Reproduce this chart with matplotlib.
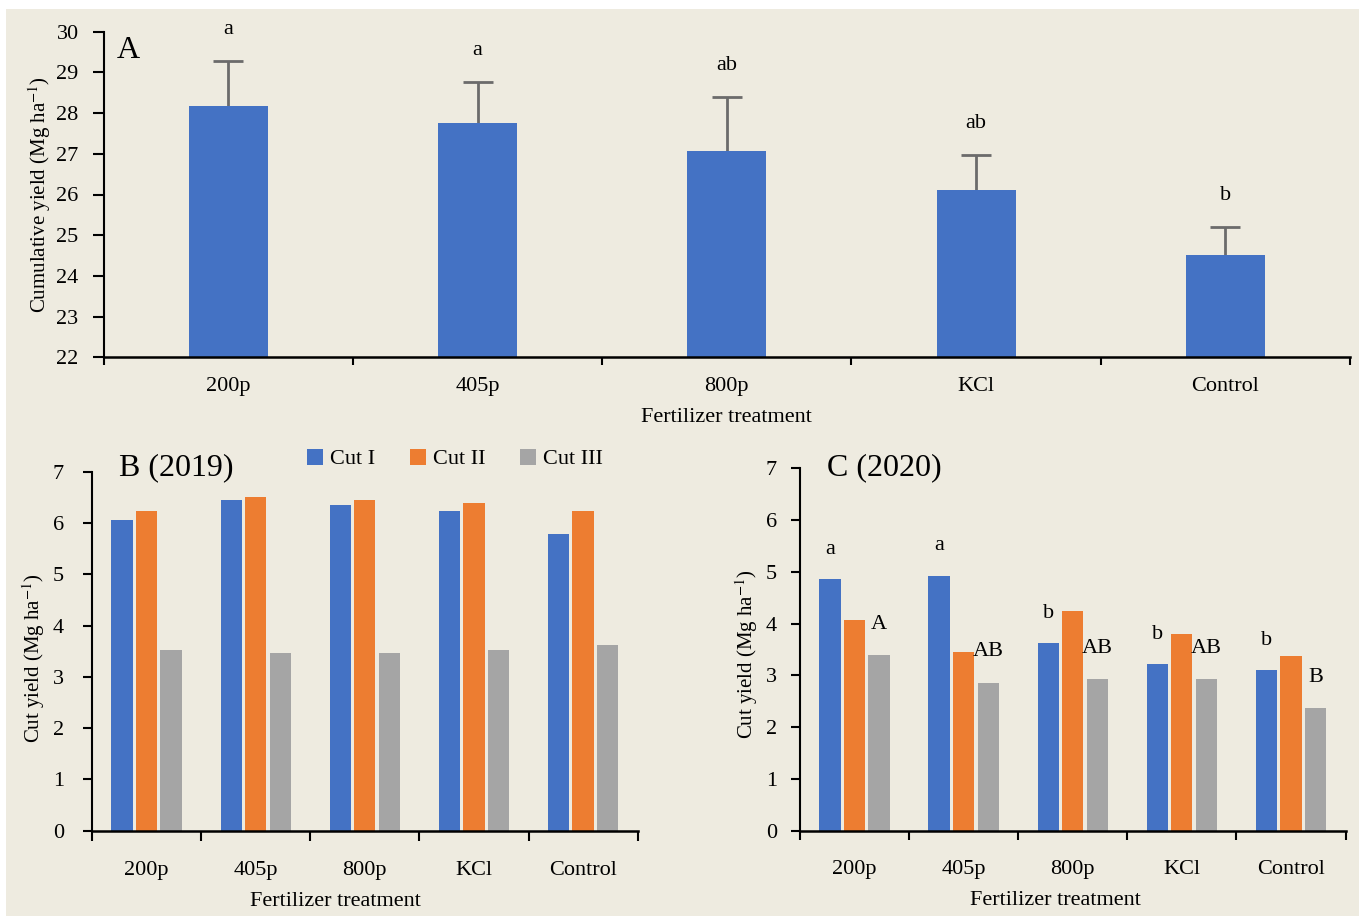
import matplotlib
matplotlib.use("Agg")
import matplotlib.pyplot as plt
import numpy as np
from matplotlib.patches import Rectangle, Patch

plt.rcParams['font.family'] = ['Liberation Serif', 'DejaVu Serif']
plt.rcParams['mathtext.fontset'] = 'stix'

# ---------------- data ----------------
treatments = ["200p", "405p", "800p", "KCl", "Control"]

cum_yield = [28.17, 27.76, 27.07, 26.11, 24.52]
cum_err = [1.11, 1.00, 1.32, 0.86, 0.68]
cum_letters = ["a", "a", "ab", "ab", "b"]

cuts = ["Cut I", "Cut II", "Cut III"]
y2019_cut1 = [6.06, 6.45, 6.35, 6.23, 5.78]
y2019_cut2 = [6.23, 6.50, 6.45, 6.39, 6.23]
y2019_cut3 = [3.52, 3.46, 3.46, 3.52, 3.62]

y2020_cut1 = [4.86, 4.92, 3.62, 3.21, 3.10]
y2020_cut2 = [4.06, 3.45, 4.24, 3.79, 3.38]
y2020_cut3 = [3.39, 2.86, 2.92, 2.92, 2.36]
c_letters_cut1 = ["a", "a", "b", "b", "b"]
c_letters_cut3 = ["A", "AB", "AB", "AB", "B"]

colors = ["#4472C4", "#ED7D31", "#A5A5A5"]
BG = "#EEEBE0"

W, H = 1359, 916
fig = plt.figure(figsize=(W / 100, H / 100), dpi=100)
fig.patch.set_facecolor("white")
fig.patches.append(Rectangle((6 / W, 0), 1 - 6 / W, 1 - 9 / H, transform=fig.transFigure,
                             facecolor=BG, edgecolor="none", zorder=-10))


def ax_rect(l, r, t, b):
    return [l / W, 1 - b / H, (r - l) / W, (b - t) / H]


def style(ax, ytick_len, ypad, xtick_len, xpad):
    ax.set_facecolor("none")
    for s in ["top", "right"]:
        ax.spines[s].set_visible(False)
    ax.spines["left"].set_linewidth(1.5)
    ax.spines["bottom"].set_linewidth(1.8)
    ax.set_xlim(0, len(treatments))
    ax.set_xticks(np.arange(len(treatments)) + 0.5)
    ax.set_xticklabels(treatments)
    ax.set_xticks(np.arange(len(treatments) + 1), minor=True)
    ax.tick_params(axis="x", which="major", length=0, pad=xpad, labelsize=16)
    ax.tick_params(axis="x", which="minor", length=xtick_len, width=1.5, direction="out")
    ax.tick_params(axis="y", which="major", length=ytick_len, width=1.5, pad=ypad, labelsize=16)


# ---------------- panel A ----------------
axA = fig.add_axes(ax_rect(103.6, 1350, 31.7, 357.3))
style(axA, 8, 10, 6, 14)
xA = np.arange(len(treatments)) + 0.5
axA.bar(xA, np.array(cum_yield) - 22, bottom=22, width=0.317, color=colors[0], zorder=2)
eb = axA.errorbar(xA, cum_yield, yerr=[np.zeros(len(cum_err)), cum_err], fmt="none",
                  ecolor="#6B6B6B", elinewidth=2, capsize=10.8, capthick=2, zorder=1)
eb[1][0].set_visible(False)  # hide lower caps
axA.set_ylim(22, 30)
axA.set_yticks(range(22, 31))
for x, v, e, t in zip(xA, cum_yield, cum_err, cum_letters):
    axA.text(x, v + e + 0.78, t, ha="center", va="center", fontsize=16, clip_on=False)
axA.set_ylabel("Cumulative yield (Mg ha$^{-1}$)", fontsize=15, va="center")
axA.yaxis.set_label_coords(-0.051, 0.5)
axA.set_xlabel("Fertilizer treatment", fontsize=16, va="center")
axA.xaxis.set_label_coords(0.5, -0.186)

# ---------------- panels B and C ----------------
bw = 0.195
off = 0.225


def cut_panel(rect, data, ytick_len, ypad, xtick_len, xpad):
    ax = fig.add_axes(rect)
    style(ax, ytick_len, ypad, xtick_len, xpad)
    x = np.arange(len(treatments)) + 0.5
    for i, (vals, c) in enumerate(zip(data, colors)):
        ax.bar(x + (i - 1) * off, vals, width=bw, color=c, label=cuts[i], zorder=2)
    ax.set_ylim(0, 7)
    ax.set_yticks(range(0, 8))
    return ax, x


axB, xB = cut_panel(ax_rect(92, 637.7, 471.7, 830.7), [y2019_cut1, y2019_cut2, y2019_cut3], 6.3, 14, 7, 21.6)
axB.set_ylabel("Cut yield (Mg ha$^{-1}$)", fontsize=15, va="center")
axB.yaxis.set_label_coords(-0.107, 0.48)
axB.set_xlabel("Fertilizer treatment", fontsize=16, va="center")
axB.xaxis.set_label_coords(0.447, -0.198)

axC, xC = cut_panel(ax_rect(800, 1345.5, 468.3, 830.5), [y2020_cut1, y2020_cut2, y2020_cut3], 6.5, 10, 6.5, 21.2)
axC.set_ylabel("Cut yield (Mg ha$^{-1}$)", fontsize=15, va="center")
axC.yaxis.set_label_coords(-0.098, 0.487)
axC.set_xlabel("Fertilizer treatment", fontsize=16, va="center")
axC.xaxis.set_label_coords(0.469, -0.192)
for x, v, t in zip(xC, y2020_cut1, c_letters_cut1):
    axC.text(x - off, v + 0.58, t, ha="center", va="center", fontsize=16)
for x, v, t in zip(xC, y2020_cut3, c_letters_cut3):
    axC.text(x + off, v + 0.60, t, ha="center", va="center", fontsize=16)

# legend
handles = [Patch(facecolor=c, edgecolor="none") for c in colors]
fig.legend(handles, cuts, loc="center left", bbox_to_anchor=(306.7 / W, 1 - 459 / H),
           ncol=3, frameon=False, fontsize=16, handlelength=0.72, handleheight=0.72,
           handletextpad=0.33, columnspacing=1.55, borderpad=0, borderaxespad=0)

# panel labels
fig.text(117 / W, 1 - 58.3 / H, "A", fontsize=23, ha="left", va="baseline")
fig.text(119 / W, 1 - 475 / H, "B (2019)", fontsize=23, ha="left", va="baseline")
fig.text(826.8 / W, 1 - 475 / H, "C (2020)", fontsize=23, ha="left", va="baseline")

fig.savefig("out.png", dpi=100, facecolor=fig.get_facecolor())
